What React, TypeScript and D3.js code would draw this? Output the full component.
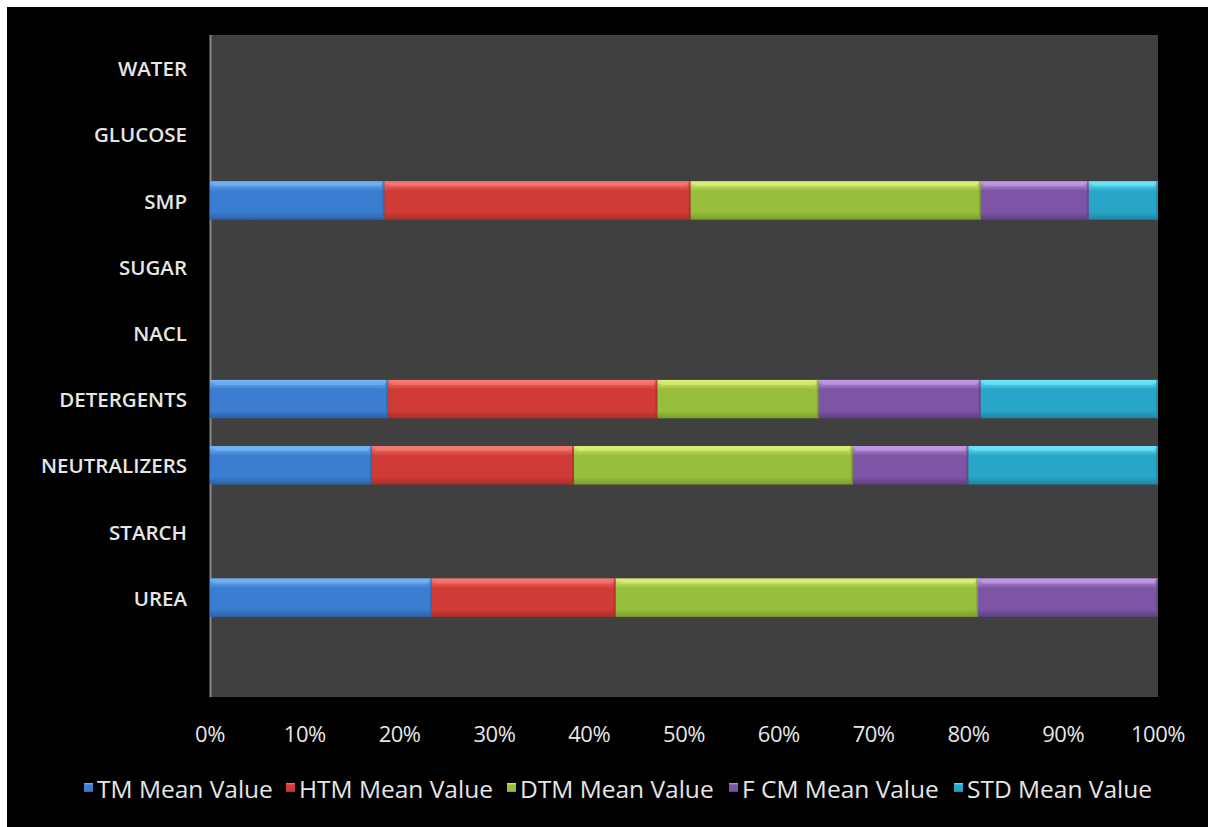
import React from "react";
import * as d3 from "d3";

const categories = ["WATER", "GLUCOSE", "SMP", "SUGAR", "NACL", "DETERGENTS", "NEUTRALIZERS", "STARCH", "UREA", ""];
const seriesNames = ["TM Mean Value", "HTM Mean Value", "DTM Mean Value", "F CM Mean Value", "STD Mean Value"];
const tmValues = [0, 0, 18.4, 0, 0, 18.8, 17.1, 0, 23.4, 0];
const htmValues = [0, 0, 32.3, 0, 0, 28.4, 21.3, 0, 19.4, 0];
const dtmValues = [0, 0, 30.6, 0, 0, 17.0, 29.4, 0, 38.2, 0];
const fcmValues = [0, 0, 11.4, 0, 0, 17.1, 12.2, 0, 19.0, 0];
const stdValues = [0, 0, 7.3, 0, 0, 18.7, 20.0, 0, 0, 0];
const xTicks = [0, 0.1, 0.2, 0.3, 0.4, 0.5, 0.6, 0.7, 0.8, 0.9, 1.0];
const seriesColors = [
  { base: "#3b7dd0", light: "#74b4f6", dark: "#2c62a8" },
  { base: "#d13b37", light: "#f77b74", dark: "#a92d2a" },
  { base: "#98bf3c", light: "#dcf07a", dark: "#7a9c2c" },
  { base: "#7c56a4", light: "#c49be8", dark: "#5f3f84" },
  { base: "#28a6ca", light: "#6fe6fb", dark: "#1d84a3" },
];

const W = 1208;
const H = 827;
const plot = { left: 210, right: 1158, top: 35, bottom: 697 };
const FONT = "'Open Sans', 'DejaVu Sans Condensed', sans-serif";

export default function App() {
  const allSeries = [tmValues, htmValues, dtmValues, fcmValues, stdValues];
  const rows = categories.map((c, i) => {
    const o: any = { cat: c + "_" + i };
    seriesNames.forEach((s, j) => (o[s] = allSeries[j][i]));
    return o;
  });
  const stacked = d3.stack<any>().keys(seriesNames).offset(d3.stackOffsetExpand)(rows);
  const x = d3.scaleLinear().domain([0, 1]).range([plot.left, plot.right]);
  const y = d3
    .scaleBand()
    .domain(rows.map((r) => r.cat))
    .range([plot.top, plot.bottom])
    .paddingInner(0.42)
    .paddingOuter(0.21);
  const bh = y.bandwidth();
  const fmt = d3.format(".0%");

  const legendX = [88, 290, 511, 733, 958];

  return (
    <svg width={W} height={H} style={{ position: "absolute", left: 0, top: 0, background: "#fff" }}>
      <defs>
        {seriesColors.map((c, i) => (
          <linearGradient key={i} id={"g" + i} x1="0" y1="0" x2="0" y2="1">
            <stop offset="0" stopColor={c.light} />
            <stop offset="0.25" stopColor={c.base} />
            <stop offset="0.8" stopColor={c.base} />
            <stop offset="1" stopColor={c.dark} />
          </linearGradient>
        ))}
      </defs>
      <rect x={7} y={7} width={W - 7} height={H - 7} fill="#000" />
      <rect x={plot.left} y={plot.top} width={plot.right - plot.left} height={plot.bottom - plot.top} fill="#404040" />
      <line x1={plot.left + 0.5} x2={plot.left + 0.5} y1={plot.top} y2={plot.bottom} stroke="#8a8a8a" strokeWidth={2} />
      {stacked.map((layer, si) =>
        layer.map((d, ci) => {
          const v0 = isNaN(d[0]) ? 0 : d[0];
          const v1 = isNaN(d[1]) ? 0 : d[1];
          if (v1 - v0 <= 0) return null;
          const yy = y(rows[ci].cat)!;
          const x0 = x(v0);
          const w = x(v1) - x(v0);
          const b = 5;
          return (
            <g key={si + "-" + ci}>
              <rect x={x0} y={yy} width={w} height={bh} fill={`url(#g${si})`} />
              <polygon
                points={`${x0},${yy} ${x0 + w},${yy} ${x0 + w - b},${yy + b} ${x0 + b},${yy + b}`}
                fill={seriesColors[si].light}
                opacity={0.6}
              />
              <rect x={x0 + w - 2} y={yy} width={2} height={bh} fill={seriesColors[si].dark} opacity={0.6} />
            </g>
          );
        })
      )}
      {rows.map((r, i) => (
        <text
          key={r.cat}
          x={187}
          y={y(r.cat)! + bh / 2}
          textAnchor="end"
          dominantBaseline="central"
          fill="#e6e6e6"
          fontFamily={FONT}
          fontSize={20.5}
          fontWeight={600}
        >
          {categories[i]}
        </text>
      ))}
      {xTicks.map((t) => (
        <text
          key={t}
          x={x(t)}
          y={733}
          textAnchor="middle"
          dominantBaseline="central"
          fill="#e6e6e6"
          fontFamily={FONT}
          fontSize={22}
          letterSpacing={-0.5}
        >
          {fmt(t)}
        </text>
      ))}
      {seriesNames.map((s, i) => (
        <g key={s}>
          <rect x={legendX[i] - 4} y={783} width={9} height={9} fill={`url(#g${i})`} />
          <text
            x={legendX[i] + 9}
            y={788}
            dominantBaseline="central"
            fill="#e6e6e6"
            fontFamily={FONT}
            fontSize={24.5}
          >
            {s}
          </text>
        </g>
      ))}
    </svg>
  );
}
